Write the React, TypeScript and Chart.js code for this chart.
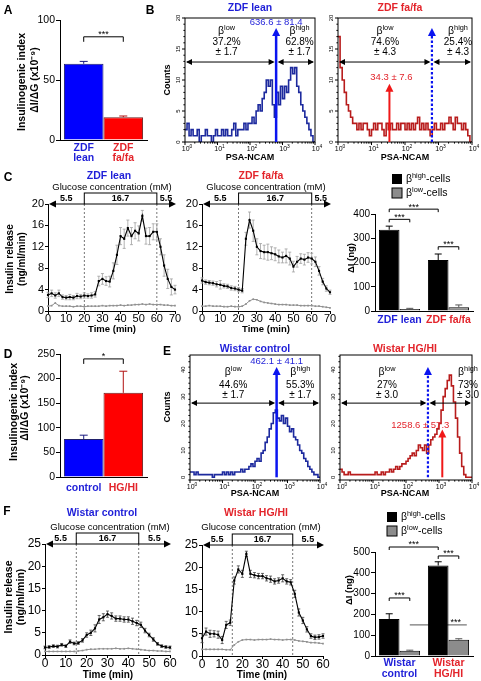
import React, { useEffect, useRef } from 'react';
import { Chart, registerables } from 'chart.js';

Chart.register(...registerables);

/* ======================= DATA ======================= */
// Panels A / D: insulinogenic index (x10^-9)
const zdfGroupLabels = [['ZDF', 'lean'], ['ZDF', 'fa/fa']];
const insIndexZdf = [63.5, 19];
const insIndexZdfErr = [2, 1];
const wistarShortLabels = ['control', 'HG/HI'];
const insIndexWistar = [77, 171];
const insIndexWistarErr = [8, 44];

// Panels B / E: PSA-NCAM histograms, counts per log bin from 10^0 to 10^4
const psaTickExponents = ['0', '1', '2', '3', '4'];
const histZdfLean = [
  2, 3, 1, 2, 1, 1, 2, 0, 1, 1, 2, 1, 1, 0, 1, 2,
  1, 1, 2, 1, 2, 1, 1, 2, 3, 1, 2, 2, 2, 3, 2, 3,
  3, 4, 3, 5, 6, 5, 7, 8, 10, 9, 10, 6, 4, 8, 6, 9,
  7, 9, 8, 10, 12, 11, 12, 9, 8, 6, 5, 4, 3, 2, 1, 0,
];
const histZdfFa = [
  17, 12, 10, 8, 6, 5, 4, 3, 3, 2, 3, 2, 3, 3, 2, 1,
  2, 3, 2, 3, 3, 2, 1, 3, 2, 3, 2, 2, 3, 2, 3, 3,
  2, 3, 2, 3, 2, 3, 4, 2, 3, 2, 3, 2, 1, 2, 3, 2,
  2, 3, 2, 3, 3, 4, 3, 2, 4, 3, 3, 2, 3, 2, 1, 0,
];
const histWistarCtrl = [
  2, 2, 1, 2, 1, 1, 1, 1, 1, 1, 1, 0, 1, 1, 1, 1,
  2, 1, 2, 1, 2, 1, 2, 2, 2, 3, 2, 3, 3, 4, 5, 4,
  6, 7, 6, 9, 10, 13, 15, 18, 20, 24, 25, 22, 21, 23, 20, 22,
  19, 17, 18, 15, 14, 12, 10, 9, 7, 6, 4, 3, 2, 1, 1, 0,
];
const histWistarHg = [
  3, 2, 1, 1, 2, 1, 1, 1, 1, 1, 1, 1, 1, 1, 1, 1,
  1, 2, 1, 1, 2, 1, 2, 2, 3, 2, 3, 4, 3, 4, 5, 5,
  6, 7, 8, 9, 8, 10, 12, 11, 10, 12, 9, 12, 14, 15, 16, 18,
  20, 25, 30, 33, 36, 38, 34, 28, 22, 15, 9, 4, 1, 0, 0, 0,
];
const zdfLeanMean = [636.6, 81.4];
const zdfFaMean = [34.3, 7.6];
const wistarCtrlMean = [462.1, 41.1];
const wistarHgMean = [1258.6, 57.3];
const zdfLeanFractions = [37.2, 62.8];
const zdfLeanFractionsSem = [1.7, 1.7];
const zdfFaFractions = [74.6, 25.4];
const zdfFaFractionsSem = [4.3, 4.3];
const wistarCtrlFractions = [44.6, 55.3];
const wistarCtrlFractionsSem = [1.7, 1.7];
const wistarHgFractions = [27, 73];
const wistarHgFractionsSem = [3.0, 3.0];

// Panels C / F: perifusion time courses
const glucoseLevels = ['5.5', '16.7', '5.5'];
const zdfGlucoseSteps = [20, 60];
const wistarGlucoseSteps = [15, 45];
const zdfTime = [0, 2, 4, 6, 8, 10, 12, 14, 16, 18, 20, 22, 24, 26, 28, 30, 32, 34, 36, 38, 40, 42, 44, 46, 48, 50, 52, 54, 56, 58, 60, 62, 64, 66, 68, 70];
const zdfLeanHigh = [3.0, 3.3, 2.9, 3.3, 2.6, 2.5, 2.6, 2.5, 2.8, 2.7, 2.9, 2.8, 2.9, 3.1, 5.6, 6.0, 5.6, 5.5, 7.5, 10.5, 14.0, 13.5, 15.5, 14.0, 15.0, 14.5, 17.8, 14.0, 14.0, 14.8, 14.8, 12.0, 8.5, 6.0, 4.5, 4.0];
const zdfLeanHighErr = [0.5, 0.6, 0.5, 0.6, 0.4, 0.4, 0.5, 0.4, 0.5, 0.4, 0.5, 0.4, 0.5, 0.5, 0.9, 1.0, 0.8, 1.0, 1.5, 1.8, 1.6, 1.8, 1.5, 1.6, 1.5, 1.4, 1.0, 1.5, 1.6, 1.5, 1.5, 1.5, 2.0, 1.8, 1.5, 0.8];
const zdfLeanLow = [0.9, 1.0, 1.5, 1.0, 0.9, 0.9, 0.9, 0.8, 0.9, 0.9, 0.8, 0.9, 0.9, 0.9, 0.9, 1.0, 0.9, 1.0, 1.0, 1.0, 1.1, 1.0, 1.1, 1.1, 1.2, 1.2, 1.3, 1.2, 1.3, 1.2, 1.2, 1.2, 1.1, 1.1, 1.0, 1.0];
const zdfFaHigh = [5.7, 5.4, 5.3, 5.2, 5.0, 4.9, 4.7, 4.6, 4.3, 4.2, 4.0, 3.8, 13.5, 17.0, 15.0, 12.0, 11.2, 11.0, 11.0, 10.8, 10.6, 10.2, 10.0, 10.3, 9.8, 8.3, 9.2, 9.8, 9.6, 10.0, 9.8, 9.2, 7.5, 5.5, 4.2, 3.5];
const zdfFaHighErr = [0.5, 0.4, 0.4, 0.4, 0.5, 0.8, 0.4, 0.4, 0.4, 0.4, 0.4, 0.4, 1.2, 1.5, 2.0, 1.5, 1.4, 1.3, 1.5, 1.2, 1.2, 1.2, 1.0, 1.3, 1.2, 1.0, 1.0, 0.9, 1.0, 0.9, 1.0, 0.9, 0.8, 0.6, 0.5, 0.4];
const zdfFaLow = [0.9, 0.9, 1.0, 0.9, 0.9, 0.9, 0.8, 0.8, 0.9, 0.8, 0.8, 0.9, 1.3, 1.9, 2.2, 2.1, 1.8, 1.6, 1.5, 1.4, 1.3, 1.2, 1.2, 1.2, 1.1, 1.1, 1.1, 1.0, 1.0, 1.0, 1.0, 0.9, 0.9, 0.8, 0.7, 0.6];
const wistarTime = [0, 2, 4, 6, 8, 10, 12, 14, 16, 18, 20, 22, 24, 26, 28, 30, 32, 34, 36, 38, 40, 42, 44, 46, 48, 50, 52, 54, 56, 58, 60];
const wistarCtrlHigh = [1.7, 1.8, 2.0, 1.9, 2.3, 2.0, 3.0, 2.6, 2.7, 3.3, 4.5, 5.0, 6.0, 8.0, 8.5, 9.2, 8.8, 8.2, 8.2, 8.0, 8.0, 7.6, 7.2, 6.8, 5.5, 4.5, 3.5, 2.5, 2.0, 1.8, 1.7];
const wistarCtrlHighErr = [0.3, 0.3, 0.3, 0.3, 0.3, 0.3, 0.4, 0.3, 0.3, 0.4, 0.5, 0.6, 0.8, 0.9, 0.8, 0.7, 0.7, 0.6, 0.6, 0.6, 0.6, 0.7, 0.6, 0.6, 0.5, 0.4, 0.4, 0.3, 0.3, 0.3, 0.3];
const wistarCtrlLow = [0.8, 0.8, 0.8, 0.8, 0.8, 0.8, 0.8, 0.8, 0.9, 1.0, 1.2, 1.3, 1.3, 1.4, 1.4, 1.4, 1.4, 1.5, 1.4, 1.4, 1.5, 1.4, 1.3, 1.2, 1.1, 1.0, 1.0, 0.9, 0.9, 0.8, 0.8];
const wistarHgHigh = [4.0, 5.5, 5.0, 5.0, 4.8, 3.6, 7.0, 7.5, 17.0, 19.5, 18.5, 23.0, 18.5, 18.2, 18.0, 18.0, 17.5, 17.3, 16.8, 17.0, 17.5, 16.8, 16.6, 14.0, 9.8, 8.0, 6.0, 4.5, 4.2, 4.3, 4.5];
const wistarHgHighErr = [1.0, 0.8, 0.8, 0.7, 0.8, 0.8, 0.8, 0.6, 0.8, 0.8, 0.8, 0.6, 0.8, 0.6, 0.6, 0.6, 0.6, 0.7, 0.6, 0.6, 0.8, 0.6, 0.6, 0.8, 0.8, 0.7, 0.6, 0.5, 0.5, 0.5, 0.5];
const wistarHgLow = [1.5, 1.5, 1.5, 1.5, 1.5, 1.5, 1.4, 1.4, 2.5, 3.2, 3.6, 3.7, 3.7, 3.6, 3.7, 3.7, 3.7, 3.8, 3.7, 3.7, 3.6, 3.7, 3.7, 3.6, 3.4, 3.3, 3.2, 3.0, 3.0, 2.9, 2.8];

// Panels C / F right: delta insulin (ng)
const zdfBarLabels = [['ZDF lean'], ['ZDF fa/fa']];
const zdfDeltaHigh = [335, 210];
const zdfDeltaHighErr = [15, 25];
const zdfDeltaLow = [8, 15];
const zdfDeltaLowErr = [3, 10];
const wistarBarLabels = [['Wistar', 'control'], ['Wistar', 'HG/HI']];
const wistarDeltaHigh = [178, 435];
const wistarDeltaHighErr = [25, 18];
const wistarDeltaLow = [25, 78];
const wistarDeltaLowErr = [3, 5];

/* ======================= STYLE / HELPERS ======================= */
const W = 481;
const H = 681;
const FF = '"Liberation Sans", Arial, Helvetica, sans-serif';
const BLUE_T = '#1f1fd8';
const RED_T = '#e3242b';
const BAR_BLUE = '#0000ff';
const BAR_RED = '#ff0000';
const HIST_BLUE = '#1d2a9e';
const HIST_RED = '#b81c1c';
const ARROW_BLUE = '#0a14f0';
const ARROW_RED = '#f01818';
const GRAY_BAR = '#8c8c8c';

Chart.defaults.font.family = FF;
Chart.defaults.color = '#000';

const fnt = (size: number, bold = false) => `${bold ? 'bold ' : ''}${size}px ${FF}`;

function txt(ctx: any, s: string, x: number, y: number, size: number, color = '#000', bold = false, align: any = 'center') {
  ctx.save();
  ctx.font = fnt(size, bold);
  ctx.fillStyle = color;
  ctx.textAlign = align;
  ctx.textBaseline = 'middle';
  ctx.fillText(s, x, y);
  ctx.restore();
}
function vtxt(ctx: any, s: string, x: number, y: number, size: number, color = '#000', bold = false) {
  ctx.save();
  ctx.translate(x, y);
  ctx.rotate(-Math.PI / 2);
  txt(ctx, s, 0, 0, size, color, bold);
  ctx.restore();
}
function rich(ctx: any, segs: [string, boolean][], x: number, y: number, size: number, color = '#000', align = 'center') {
  ctx.save();
  const ws = segs.map(([t, s]) => {
    ctx.font = fnt(s ? size * 0.7 : size);
    return ctx.measureText(t).width;
  });
  const tot = ws.reduce((p, q) => p + q, 0);
  let cx = align === 'center' ? x - tot / 2 : align === 'right' ? x - tot : x;
  ctx.fillStyle = color;
  ctx.textAlign = 'left';
  ctx.textBaseline = 'middle';
  segs.forEach(([t, s], i) => {
    ctx.font = fnt(s ? size * 0.7 : size);
    ctx.fillText(t, cx, s ? y - size * 0.33 : y);
    cx += ws[i];
  });
  ctx.restore();
}
function seg(ctx: any, x1: number, y1: number, x2: number, y2: number, color = '#000', w = 1, dash: number[] = []) {
  ctx.save();
  ctx.strokeStyle = color;
  ctx.lineWidth = w;
  ctx.setLineDash(dash);
  ctx.beginPath();
  ctx.moveTo(x1, y1);
  ctx.lineTo(x2, y2);
  ctx.stroke();
  ctx.restore();
}
function head(ctx: any, x: number, y: number, dir: string, len: number, half: number, color = '#000') {
  ctx.save();
  ctx.fillStyle = color;
  ctx.beginPath();
  if (dir === 'u') {
    ctx.moveTo(x, y);
    ctx.lineTo(x - half, y + len);
    ctx.lineTo(x + half, y + len);
  } else if (dir === 'l') {
    ctx.moveTo(x, y);
    ctx.lineTo(x + len, y - half);
    ctx.lineTo(x + len, y + half);
  } else {
    ctx.moveTo(x, y);
    ctx.lineTo(x - len, y - half);
    ctx.lineTo(x - len, y + half);
  }
  ctx.closePath();
  ctx.fill();
  ctx.restore();
}
function vArrow(ctx: any, x: number, yB: number, yT: number, color: string, w: number, dotted: boolean) {
  seg(ctx, x, yB, x, yT + 6, color, w, dotted ? [2.5, 2] : []);
  head(ctx, x, yT, 'u', 8, 4, color);
}
function bracket(ctx: any, x1: number, x2: number, y: number, leg: number, stars: string, color = '#000') {
  ctx.save();
  ctx.strokeStyle = color;
  ctx.lineWidth = 1;
  ctx.beginPath();
  ctx.moveTo(x1, y + leg);
  ctx.lineTo(x1, y);
  ctx.lineTo(x2, y);
  ctx.lineTo(x2, y + leg);
  ctx.stroke();
  ctx.restore();
  txt(ctx, stars, (x1 + x2) / 2, y - 2, 9);
}
function errUp(ctx: any, x: number, ys: any, v: number, e: number, color: string, cap: number) {
  const y0 = ys.getPixelForValue(v);
  const y1 = ys.getPixelForValue(v + e);
  ctx.save();
  ctx.strokeStyle = color;
  ctx.lineWidth = 1;
  ctx.beginPath();
  ctx.moveTo(x, y0);
  ctx.lineTo(x, y1);
  ctx.moveTo(x - cap / 2, y1);
  ctx.lineTo(x + cap / 2, y1);
  ctx.stroke();
  ctx.restore();
}

type Area = { x0: number; x1: number; y0: number; y1: number };
const pad = (a: Area, yw: number, xh: number) => ({ left: a.x0 - yw, top: a.y0, right: W - a.x1, bottom: H - a.y1 - xh });

const baseOpts = { responsive: false, animation: false, events: [] as any[] };
const noPlug = { legend: { display: false }, tooltip: { enabled: false } };
const tickGrid = { display: true, drawOnChartArea: false, drawTicks: true, tickLength: 3, color: '#000', lineWidth: 1 };

/* ---------- histograms ---------- */
function histConfig(a: Area, counts: number[], color: string, yMin: number, yMax: number, majors: number[], minorStep: number, draw: (ch: any, ctx: any) => void) {
  const bin = 4 / counts.length;
  const pts = counts.map((c, i) => ({ x: i * bin, y: c }));
  pts.push({ x: 4, y: counts[counts.length - 1] });
  return {
    type: 'line',
    data: { datasets: [{ data: pts, borderColor: color, borderWidth: 1.6, pointRadius: 0, stepped: true, fill: false }] },
    options: {
      ...baseOpts,
      layout: { padding: pad(a, 10, 12) },
      plugins: noPlug,
      scales: {
        x: {
          type: 'linear', min: 0, max: 4,
          afterFit: (s: any) => { s.height = 12; },
          grid: { display: false }, border: { display: false },
          ticks: { stepSize: 1, display: false },
        },
        y: {
          type: 'linear', min: yMin, max: yMax,
          afterFit: (s: any) => { s.width = 10; },
          grid: { display: false }, border: { display: false }, ticks: { display: false },
        },
      },
    },
    plugins: [{
      id: 'histdeco',
      afterDraw(ch: any) {
        const ctx = ch.ctx;
        const ar = ch.chartArea;
        const xs = ch.scales.x;
        const ys = ch.scales.y;
        ctx.save();
        ctx.strokeStyle = '#000';
        ctx.lineWidth = 1;
        ctx.strokeRect(ar.left, ar.top, ar.right - ar.left, ar.bottom - ar.top);
        ctx.beginPath();
        for (let n = 0; n <= 4; n++) {
          const x = xs.getPixelForValue(n);
          ctx.moveTo(x, ar.bottom); ctx.lineTo(x, ar.bottom + 3);
          if (n < 4) {
            for (let k = 2; k <= 9; k++) {
              const xm = xs.getPixelForValue(n + Math.log10(k));
              ctx.moveTo(xm, ar.bottom); ctx.lineTo(xm, ar.bottom + 1.6);
            }
          }
        }
        for (let v = Math.ceil(yMin); v <= yMax; v += minorStep) {
          const y = ys.getPixelForValue(v);
          const major = majors.indexOf(v) >= 0;
          ctx.moveTo(ar.left, y); ctx.lineTo(ar.left - (major ? 3 : 1.6), y);
        }
        ctx.stroke();
        ctx.restore();
        majors.forEach((v) => vtxt(ctx, String(v), ar.left - 7, ys.getPixelForValue(v), 6));
        psaTickExponents.forEach((e, n) => {
          rich(ctx, [['10', false], [e, true]], xs.getPixelForValue(n) + 2, ar.bottom + 7, 7);
        });
        draw(ch, ctx);
      },
    }],
  };
}

function splitAnnot(ch: any, ctx: any, splitVal: number, yArrow: number, fr: number[], frSem: number[], yLines: number[], offs: number[]) {
  const xs = ch.scales.x;
  const ys = ch.scales.y;
  const ar = ch.chartArea;
  const xm = xs.getPixelForValue(Math.log10(splitVal));
  const ya = ys.getPixelForValue(yArrow);
  seg(ctx, ar.left + 2, ya, xm - 3, ya, '#000', 1);
  seg(ctx, xm + 3, ya, ar.right - 2, ya, '#000', 1);
  head(ctx, ar.left + 1, ya, 'l', 6, 3);
  head(ctx, xm - 1.5, ya, 'r', 6, 3);
  head(ctx, xm + 1.5, ya, 'l', 6, 3);
  head(ctx, ar.right - 1, ya, 'r', 6, 3);
  const cs = [(ar.left + xm) / 2 + offs[0], (xm + ar.right) / 2 + offs[1]];
  const sups = ['low', 'high'];
  cs.forEach((c, i) => {
    rich(ctx, [['β', false], [sups[i], true]], c, ys.getPixelForValue(yLines[0]), 10.5);
    txt(ctx, `${fr[i]}%`, c, ys.getPixelForValue(yLines[1]), 10);
    txt(ctx, `± ${frSem[i].toFixed(1)}`, c, ys.getPixelForValue(yLines[2]), 10);
  });
}

/* ---------- time courses ---------- */
function tsConfig(a: Area, yw: number, xh: number, tickPad: number, T: number[], hi: number[], hiErr: number[], lo: number[], xMax: number, yMax: number, yStep: number, tickSize: number, errColor: string, steps: number[], draw: (ch: any, ctx: any) => void) {
  return {
    type: 'line',
    data: {
      datasets: [
        { data: T.map((t, i) => ({ x: t, y: hi[i] })), borderColor: '#000', backgroundColor: '#000', borderWidth: 1.1, pointStyle: 'rect', pointRadius: 1.5, pointBackgroundColor: '#000', pointBorderWidth: 0, clip: 4 },
        { data: T.map((t, i) => ({ x: t, y: lo[i] })), borderColor: '#909090', backgroundColor: '#909090', borderWidth: 1, pointStyle: 'rect', pointRadius: 1.2, pointBackgroundColor: '#909090', pointBorderWidth: 0, clip: 4 },
      ],
    },
    options: {
      ...baseOpts,
      layout: { padding: pad(a, yw, xh) },
      plugins: noPlug,
      scales: {
        x: {
          type: 'linear', min: 0, max: xMax,
          afterFit: (s: any) => { s.height = xh; },
          grid: tickGrid, border: { display: true, color: '#000', width: 1 },
          ticks: { stepSize: 10, autoSkip: false, maxRotation: 0, padding: tickPad, font: { size: tickSize }, color: '#000' },
        },
        y: {
          type: 'linear', min: 0, max: yMax,
          afterFit: (s: any) => { s.width = yw; },
          grid: tickGrid, border: { display: true, color: '#000', width: 1 },
          ticks: { stepSize: yStep, padding: 1, font: { size: tickSize }, color: '#000' },
        },
      },
    },
    plugins: [{
      id: 'tsdeco',
      beforeDatasetsDraw(ch: any) {
        const ctx = ch.ctx;
        const xs = ch.scales.x;
        const ys = ch.scales.y;
        const ar = ch.chartArea;
        const x1 = xs.getPixelForValue(steps[0]);
        const x2 = xs.getPixelForValue(steps[1]);
        seg(ctx, x1, ar.top, x1, ar.bottom, '#555', 0.8, [2, 2]);
        seg(ctx, x2, ar.top, x2, ar.bottom, '#555', 0.8, [2, 2]);
        ctx.save();
        ctx.strokeStyle = errColor;
        ctx.lineWidth = 0.8;
        ctx.beginPath();
        T.forEach((t, i) => {
          const x = xs.getPixelForValue(t);
          const yA = ys.getPixelForValue(hi[i] + hiErr[i]);
          const yB = ys.getPixelForValue(hi[i] - hiErr[i]);
          ctx.moveTo(x, yA); ctx.lineTo(x, yB);
          ctx.moveTo(x - 1.5, yA); ctx.lineTo(x + 1.5, yA);
          ctx.moveTo(x - 1.5, yB); ctx.lineTo(x + 1.5, yB);
        });
        ctx.stroke();
        ctx.restore();
      },
      afterDraw(ch: any) {
        const ctx = ch.ctx;
        const xs = ch.scales.x;
        const ar = ch.chartArea;
        const x1 = xs.getPixelForValue(steps[0]);
        const x2 = xs.getPixelForValue(steps[1]);
        const yb = ar.top;
        ctx.save();
        ctx.fillStyle = '#fff';
        ctx.fillRect(x1, yb - 11, x2 - x1, 11);
        ctx.strokeStyle = '#000';
        ctx.lineWidth = 1;
        ctx.strokeRect(x1, yb - 11, x2 - x1, 11);
        ctx.restore();
        seg(ctx, ar.left + 4, yb, x1, yb, '#000', 1);
        head(ctx, ar.left + 1, yb, 'l', 7, 3.5);
        seg(ctx, x2, yb, ar.right - 4, yb, '#000', 1);
        head(ctx, ar.right + 1, yb, 'r', 7, 3.5);
        txt(ctx, glucoseLevels[0], (ar.left + x1) / 2, yb - 5, 9, '#000', true);
        txt(ctx, glucoseLevels[1], (x1 + x2) / 2, yb - 5, 9, '#000', true);
        txt(ctx, glucoseLevels[2], (x2 + ar.right) / 2, yb - 5, 9, '#000', true);
        draw(ch, ctx);
      },
    }],
  };
}

/* ---------- insulinogenic index bars ---------- */
function idxConfig(a: Area, vals: number[], errs: number[], yMax: number, yStep: number, draw: (ch: any, ctx: any) => void) {
  return {
    type: 'bar',
    data: {
      labels: [''],
      datasets: [
        { data: [vals[0]], backgroundColor: BAR_BLUE, borderColor: '#20206a', borderWidth: 1, barPercentage: 1, categoryPercentage: 0.91 },
        { data: [vals[1]], backgroundColor: BAR_RED, borderColor: '#6a2020', borderWidth: 1, barPercentage: 1, categoryPercentage: 0.91 },
      ],
    },
    options: {
      ...baseOpts,
      layout: { padding: pad(a, 30, 0) },
      plugins: noPlug,
      scales: {
        x: { afterFit: (s: any) => { s.height = 0; }, grid: { display: false }, border: { display: true, color: '#000' }, ticks: { display: false } },
        y: {
          min: 0, max: yMax,
          afterFit: (s: any) => { s.width = 30; },
          grid: { ...tickGrid, tickLength: 4 }, border: { display: true, color: '#000' },
          ticks: { stepSize: yStep, padding: 1, font: { size: 10.5 }, color: '#000' },
        },
      },
    },
    plugins: [{
      id: 'idxdeco',
      afterDraw(ch: any) {
        const ctx = ch.ctx;
        const ys = ch.scales.y;
        const b0 = ch.getDatasetMeta(0).data[0];
        const b1 = ch.getDatasetMeta(1).data[0];
        errUp(ctx, b0.x, ys, vals[0], errs[0], '#1a1a80', 8);
        errUp(ctx, b1.x, ys, vals[1], errs[1], '#b01010', 8);
        draw(ch, ctx);
      },
    }],
  };
}

/* ---------- delta insulin bars ---------- */
function deltaConfig(a: Area, labels: string[][], labelY: number, hi: number[], hiErr: number[], lo: number[], loErr: number[], yMax: number, draw: (ch: any, ctx: any) => void, under?: (ch: any, ctx: any) => void) {
  return {
    type: 'bar',
    data: {
      labels: labels.map((l) => l.join(' ')),
      datasets: [
        { data: hi, backgroundColor: '#000', borderColor: '#000', borderWidth: 1, barPercentage: 1, categoryPercentage: 0.84 },
        { data: lo, backgroundColor: GRAY_BAR, borderColor: '#000', borderWidth: 1, barPercentage: 1, categoryPercentage: 0.84 },
      ],
    },
    options: {
      ...baseOpts,
      layout: { padding: pad(a, 30, 0) },
      plugins: noPlug,
      scales: {
        x: {
          afterFit: (s: any) => { s.height = 0; },
          grid: { display: false }, border: { display: true, color: '#000' },
          ticks: { display: false },
        },
        y: {
          min: 0, max: yMax,
          afterFit: (s: any) => { s.width = 30; },
          grid: { ...tickGrid, tickLength: 4 }, border: { display: true, color: '#000' },
          ticks: { stepSize: 100, padding: 1, font: { size: 10 }, color: '#000' },
        },
      },
    },
    plugins: [{
      id: 'deltadeco',
      beforeDatasetsDraw(ch: any) {
        if (under) under(ch, ch.ctx);
      },
      afterDraw(ch: any) {
        const ctx = ch.ctx;
        const ys = ch.scales.y;
        const xs = ch.scales.x;
        const m0 = ch.getDatasetMeta(0).data;
        const m1 = ch.getDatasetMeta(1).data;
        m0.forEach((b: any, i: number) => errUp(ctx, b.x, ys, hi[i], hiErr[i], '#000', 7));
        m1.forEach((b: any, i: number) => errUp(ctx, b.x, ys, lo[i], loErr[i], '#555', 7));
        labels.forEach((lines, i) => {
          const x = xs.getPixelForValue(i);
          lines.forEach((s, k) => txt(ctx, s, x, labelY + k * 11, 10.5, i === 0 ? BLUE_T : RED_T, true));
        });
        draw(ch, ctx);
      },
    }],
  };
}

function legendCells(ctx: any, x: number, y1: number, y2: number) {
  ctx.save();
  ctx.fillStyle = '#000';
  ctx.fillRect(x, y1 - 5, 10, 10);
  ctx.fillStyle = GRAY_BAR;
  ctx.fillRect(x, y2 - 5, 10, 10);
  ctx.strokeStyle = '#000';
  ctx.lineWidth = 1;
  ctx.strokeRect(x, y2 - 5, 10, 10);
  ctx.restore();
  rich(ctx, [['β', false], ['high', true], ['-cells', false]], x + 14, y1, 10.5, '#000', 'left');
  rich(ctx, [['β', false], ['low', true], ['-cells', false]], x + 14, y2, 10.5, '#000', 'left');
}

/* ======================= BUILD ======================= */
function buildAll(): any[] {
  const lg = Math.log10;
  return [
    // A
    idxConfig({ x0: 60, x1: 147, y0: 20, y1: 140 }, insIndexZdf, insIndexZdfErr, 100, 50, (ch, ctx) => {
      const ys = ch.scales.y;
      const b0 = ch.getDatasetMeta(0).data[0];
      const b1 = ch.getDatasetMeta(1).data[0];
      bracket(ctx, b0.x, b1.x, ys.getPixelForValue(86), 5, '***');
      txt(ctx, zdfGroupLabels[0][0], b0.x, 148, 10.5, BLUE_T, true);
      txt(ctx, zdfGroupLabels[0][1], b0.x, 158, 10.5, BLUE_T, true);
      txt(ctx, zdfGroupLabels[1][0], b1.x, 148, 10.5, RED_T, true);
      txt(ctx, zdfGroupLabels[1][1], b1.x, 158, 10.5, RED_T, true);
      vtxt(ctx, 'Insulinogenic index', 22, 82, 10.5, '#000', true);
      vtxt(ctx, 'ΔI/ΔG (x10⁻⁹)', 35, 80, 10.5, '#000', true);
      txt(ctx, 'A', 8, 11, 12, '#000', true);
    }),
    // B left
    histConfig({ x0: 185, x1: 315, y0: 18, y1: 142 }, histZdfLean, HIST_BLUE, 0, 20, [0, 5, 10, 15, 20], 1, (ch, ctx) => {
      const xs = ch.scales.x;
      const ys = ch.scales.y;
      splitAnnot(ch, ctx, zdfLeanMean[0], 12.9, zdfLeanFractions, zdfLeanFractionsSem, [17.9, 16.1, 14.5], [-4, 4]);
      const xm = xs.getPixelForValue(lg(zdfLeanMean[0]));
      vArrow(ctx, xm, ys.getPixelForValue(0), ys.getPixelForValue(18.4), ARROW_BLUE, 2.5, false);
      txt(ctx, `${zdfLeanMean[0]} ± ${zdfLeanMean[1]}`, xm, ys.getPixelForValue(19.3), 9.5, BLUE_T);
      txt(ctx, 'ZDF lean', 250, 8.5, 10.5, BLUE_T, true);
      vtxt(ctx, 'Counts', 168, 80, 9, '#000', true);
      txt(ctx, 'PSA-NCAM', 250, 157.5, 9, '#000', true);
      txt(ctx, 'B', 150, 11, 12, '#000', true);
    }),
    // B right
    histConfig({ x0: 338, x1: 472, y0: 18, y1: 142 }, histZdfFa, HIST_RED, 0, 20, [0, 5, 10, 15, 20], 1, (ch, ctx) => {
      const xs = ch.scales.x;
      const ys = ch.scales.y;
      splitAnnot(ch, ctx, zdfLeanMean[0], 12.9, zdfFaFractions, zdfFaFractionsSem, [17.9, 16.1, 14.5], [0, 6]);
      const xm = xs.getPixelForValue(lg(zdfLeanMean[0]));
      vArrow(ctx, xm, ys.getPixelForValue(0), ys.getPixelForValue(18.4), ARROW_BLUE, 2.2, true);
      const xr = xs.getPixelForValue(lg(zdfFaMean[0]));
      vArrow(ctx, xr, ys.getPixelForValue(0), ys.getPixelForValue(9.4), ARROW_RED, 2, false);
      txt(ctx, `${zdfFaMean[0]} ± ${zdfFaMean[1]}`, xr + 2, ys.getPixelForValue(10.4), 9.5, RED_T);
      txt(ctx, 'ZDF fa/fa', 400, 8.5, 10.5, RED_T, true);
      txt(ctx, 'PSA-NCAM', 405, 157.5, 9, '#000', true);
    }),
    // C left
    tsConfig({ x0: 48, x1: 175, y0: 204, y1: 311 }, 30, 14, -2, zdfTime, zdfLeanHigh, zdfLeanHighErr, zdfLeanLow, 70, 20, 4, 11, '#a0a0a0', zdfGlucoseSteps, (ch, ctx) => {
      txt(ctx, 'ZDF lean', 109, 176, 10.5, BLUE_T, true);
      txt(ctx, 'Glucose concentration (mM)', 112, 187, 9.5);
      txt(ctx, 'Time (min)', 112, 329, 9.5, '#000', true);
      vtxt(ctx, 'Insulin release', 10, 259, 10, '#000', true);
      vtxt(ctx, '(ng/ml/min)', 22, 259, 10, '#000', true);
      txt(ctx, 'C', 8, 178, 12, '#000', true);
    }),
    // C middle
    tsConfig({ x0: 202, x1: 330, y0: 204, y1: 311 }, 30, 14, -2, zdfTime, zdfFaHigh, zdfFaHighErr, zdfFaLow, 70, 20, 4, 11, '#a0a0a0', zdfGlucoseSteps, (ch, ctx) => {
      txt(ctx, 'ZDF fa/fa', 261, 176, 10.5, RED_T, true);
      txt(ctx, 'Glucose concentration (mM)', 266, 187, 9.5);
      txt(ctx, 'Time (min)', 266, 329, 9.5, '#000', true);
    }),
    // C right
    deltaConfig({ x0: 375, x1: 473, y0: 214, y1: 311 }, zdfBarLabels, 320, zdfDeltaHigh, zdfDeltaHighErr, zdfDeltaLow, zdfDeltaLowErr, 400, (ch, ctx) => {
      const ys = ch.scales.y;
      const m0 = ch.getDatasetMeta(0).data;
      const m1 = ch.getDatasetMeta(1).data;
      bracket(ctx, m0[0].x, m0[1].x, ys.getPixelForValue(420), 3, '***');
      bracket(ctx, m0[0].x, m1[0].x, ys.getPixelForValue(378), 3, '***');
      bracket(ctx, m0[1].x, m1[1].x, ys.getPixelForValue(265), 3, '***');
      legendCells(ctx, 392, 179, 193);
      vtxt(ctx, 'ΔI (ng)', 351, 258, 9.5, '#000', true);
    }),
    // D
    idxConfig({ x0: 60, x1: 147, y0: 354, y1: 477 }, insIndexWistar, insIndexWistarErr, 250, 50, (ch, ctx) => {
      const ys = ch.scales.y;
      const b0 = ch.getDatasetMeta(0).data[0];
      const b1 = ch.getDatasetMeta(1).data[0];
      bracket(ctx, b0.x, b1.x, ys.getPixelForValue(240), 5, '*');
      txt(ctx, wistarShortLabels[0], b0.x, 488, 10.5, BLUE_T, true);
      txt(ctx, wistarShortLabels[1], b1.x, 488, 10.5, RED_T, true);
      vtxt(ctx, 'Insulinogenic index', 14, 412, 10.5, '#000', true);
      vtxt(ctx, 'ΔI/ΔG (x10⁻⁹)', 25, 408, 10.5, '#000', true);
      txt(ctx, 'D', 8, 355, 12, '#000', true);
    }),
    // E left
    histConfig({ x0: 190, x1: 320, y0: 355, y1: 480 }, histWistarCtrl, HIST_BLUE, -1, 45.5, [0, 10, 20, 30, 40], 2, (ch, ctx) => {
      const xs = ch.scales.x;
      const ys = ch.scales.y;
      splitAnnot(ch, ctx, wistarCtrlMean[0], 27.6, wistarCtrlFractions, wistarCtrlFractionsSem, [39.2, 34.3, 30.7], [0, 2]);
      const xm = xs.getPixelForValue(lg(wistarCtrlMean[0]));
      vArrow(ctx, xm, ys.getPixelForValue(0), ys.getPixelForValue(41), ARROW_BLUE, 2.5, false);
      txt(ctx, `${wistarCtrlMean[0]} ± ${wistarCtrlMean[1]}`, xm, ys.getPixelForValue(43), 9.5, BLUE_T);
      txt(ctx, 'Wistar control', 255, 349, 10.5, BLUE_T, true);
      vtxt(ctx, 'Counts', 168, 407, 9, '#000', true);
      txt(ctx, 'PSA-NCAM', 255, 494, 9, '#000', true);
      txt(ctx, 'E', 167, 352, 12, '#000', true);
    }),
    // E right
    histConfig({ x0: 340, x1: 472, y0: 355, y1: 480 }, histWistarHg, HIST_RED, -1, 45.5, [0, 10, 20, 30, 40], 2, (ch, ctx) => {
      const xs = ch.scales.x;
      const ys = ch.scales.y;
      splitAnnot(ch, ctx, wistarCtrlMean[0], 27.6, wistarHgFractions, wistarHgFractionsSem, [39.2, 34.3, 30.7], [3, 18]);
      const xm = xs.getPixelForValue(lg(wistarCtrlMean[0]));
      vArrow(ctx, xm, ys.getPixelForValue(0), ys.getPixelForValue(41), ARROW_BLUE, 2.2, true);
      const xr = xs.getPixelForValue(lg(wistarHgMean[0]));
      vArrow(ctx, xr, ys.getPixelForValue(0), ys.getPixelForValue(17.8), ARROW_RED, 2, false);
      txt(ctx, `${wistarHgMean[0]} ± ${wistarHgMean[1]}`, xr - 22, ys.getPixelForValue(19.5), 9.5, RED_T);
      txt(ctx, 'Wistar HG/HI', 405, 349, 10.5, RED_T, true);
      txt(ctx, 'PSA-NCAM', 405, 494, 9, '#000', true);
    }),
    // F left
    tsConfig({ x0: 45, x1: 170, y0: 544, y1: 655 }, 30, 16, -2, wistarTime, wistarCtrlHigh, wistarCtrlHighErr, wistarCtrlLow, 60, 25, 5, 12, '#444', wistarGlucoseSteps, (ch, ctx) => {
      txt(ctx, 'Wistar control', 102, 513, 10.5, BLUE_T, true);
      txt(ctx, 'Glucose concentration (mM)', 110, 527, 9.5);
      txt(ctx, 'Time (min)', 108, 675, 10, '#000', true);
      vtxt(ctx, 'Insulin release', 9, 597, 10.5, '#000', true);
      vtxt(ctx, '(ng/ml/min)', 21, 597, 10.5, '#000', true);
      txt(ctx, 'F', 7, 512, 12, '#000', true);
    }),
    // F middle
    tsConfig({ x0: 202, x1: 323, y0: 545, y1: 656 }, 30, 16, -2, wistarTime, wistarHgHigh, wistarHgHighErr, wistarHgLow, 60, 25, 5, 12, '#444', wistarGlucoseSteps, (ch, ctx) => {
      txt(ctx, 'Wistar HG/HI', 256, 513, 10.5, RED_T, true);
      txt(ctx, 'Glucose concentration (mM)', 261, 527, 9.5);
      txt(ctx, 'Time (min)', 262, 675, 10, '#000', true);
    }),
    // F right
    deltaConfig({ x0: 375, x1: 473, y0: 552, y1: 656 }, wistarBarLabels, 663, wistarDeltaHigh, wistarDeltaHighErr, wistarDeltaLow, wistarDeltaLowErr, 500, (ch, ctx) => {
      const ys = ch.scales.y;
      const m0 = ch.getDatasetMeta(0).data;
      const m1 = ch.getDatasetMeta(1).data;
      bracket(ctx, m0[0].x, m0[1].x, ys.getPixelForValue(524), 3, '***');
      bracket(ctx, m0[1].x, m1[1].x, ys.getPixelForValue(481), 3, '***');
      bracket(ctx, m0[0].x, m1[0].x, ys.getPixelForValue(279), 3, '***');
      txt(ctx, '***', m1[1].x - 3, ys.getPixelForValue(162), 9);
      legendCells(ctx, 387, 517, 531);
      vtxt(ctx, 'ΔI (ng)', 349, 590, 9.5, '#000', true);
    }, (ch, ctx) => {
      const ys = ch.scales.y;
      const m1 = ch.getDatasetMeta(1).data;
      const y = ys.getPixelForValue(150);
      seg(ctx, m1[0].x, y, m1[1].x + 8, y, '#777', 1.3);
    }),
  ];
}

export default function App() {
  const refs = useRef<(HTMLCanvasElement | null)[]>([]);
  useEffect(() => {
    const cfgs = buildAll();
    const charts = cfgs.map((cfg, i) => new Chart(refs.current[i] as HTMLCanvasElement, cfg as any));
    return () => charts.forEach((c) => c.destroy());
  }, []);
  return (
    <div style={{ position: 'fixed', left: 0, top: 0, width: W, height: H, background: '#fff', overflow: 'hidden' }}>
      {Array.from({ length: 12 }, (_, i) => (
        <canvas
          key={i}
          ref={(el) => { refs.current[i] = el; }}
          width={W}
          height={H}
          style={{ position: 'absolute', left: 0, top: 0, width: W, height: H }}
        />
      ))}
    </div>
  );
}
